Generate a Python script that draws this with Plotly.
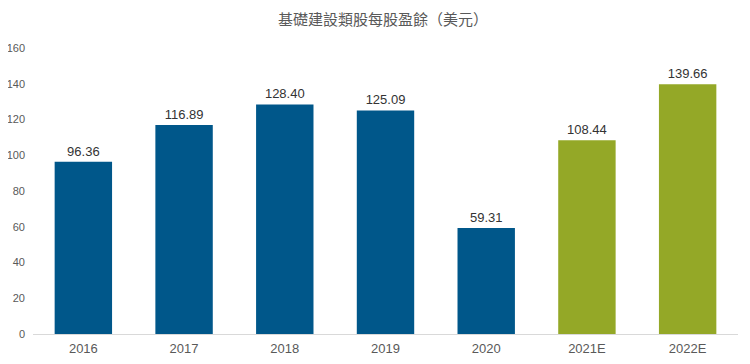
import plotly.graph_objects as go

categories = ["2016", "2017", "2018", "2019", "2020", "2021E", "2022E"]
values = [96.36, 116.89, 128.40, 125.09, 59.31, 108.44, 139.66]
labels = ["96.36", "116.89", "128.40", "125.09", "59.31", "108.44", "139.66"]
is_estimate = [False, False, False, False, False, True, True]
y_ticks = [0, 20, 40, 60, 80, 100, 120, 140, 160]

BLUE = "#00578A"
GREEN = "#94A827"
colors = [GREEN if e else BLUE for e in is_estimate]

fig = go.Figure(go.Bar(
    x=categories, y=values, marker=dict(color=colors, line=dict(width=0)),
    text=labels, textposition="outside", cliponaxis=False,
    textfont=dict(family="Liberation Sans, Arial, sans-serif", size=13, color="#333333"),
))

fig.update_layout(
    width=750, height=364,
    margin=dict(l=25, r=20, t=40, b=38, autoexpand=False),
    paper_bgcolor="white", plot_bgcolor="white",
    bargap=0.43,
    showlegend=False,
    title=dict(text="基礎建設類股每股盈餘（美元）", x=0.5, xanchor="center", y=1 - 12 / 364, yanchor="middle",
               font=dict(family="Noto Sans CJK TC, sans-serif", size=15, color="#595959")),
    font=dict(family="Liberation Sans, Arial, sans-serif", color="#595959"),
)
fig.update_yaxes(range=[0, 160], tickvals=y_ticks, showgrid=False, zeroline=False,
                 showline=False, tickfont=dict(size=11, color="#595959"), ticks="", ticklen=0,
                 automargin=False, ticklabelstandoff=7)
fig.update_xaxes(showline=True, linecolor="#D9D9D9", linewidth=1, ticks="",
                 tickfont=dict(size=13, color="#595959"), automargin=False, ticklabelstandoff=2)

fig.write_html("out.html")
